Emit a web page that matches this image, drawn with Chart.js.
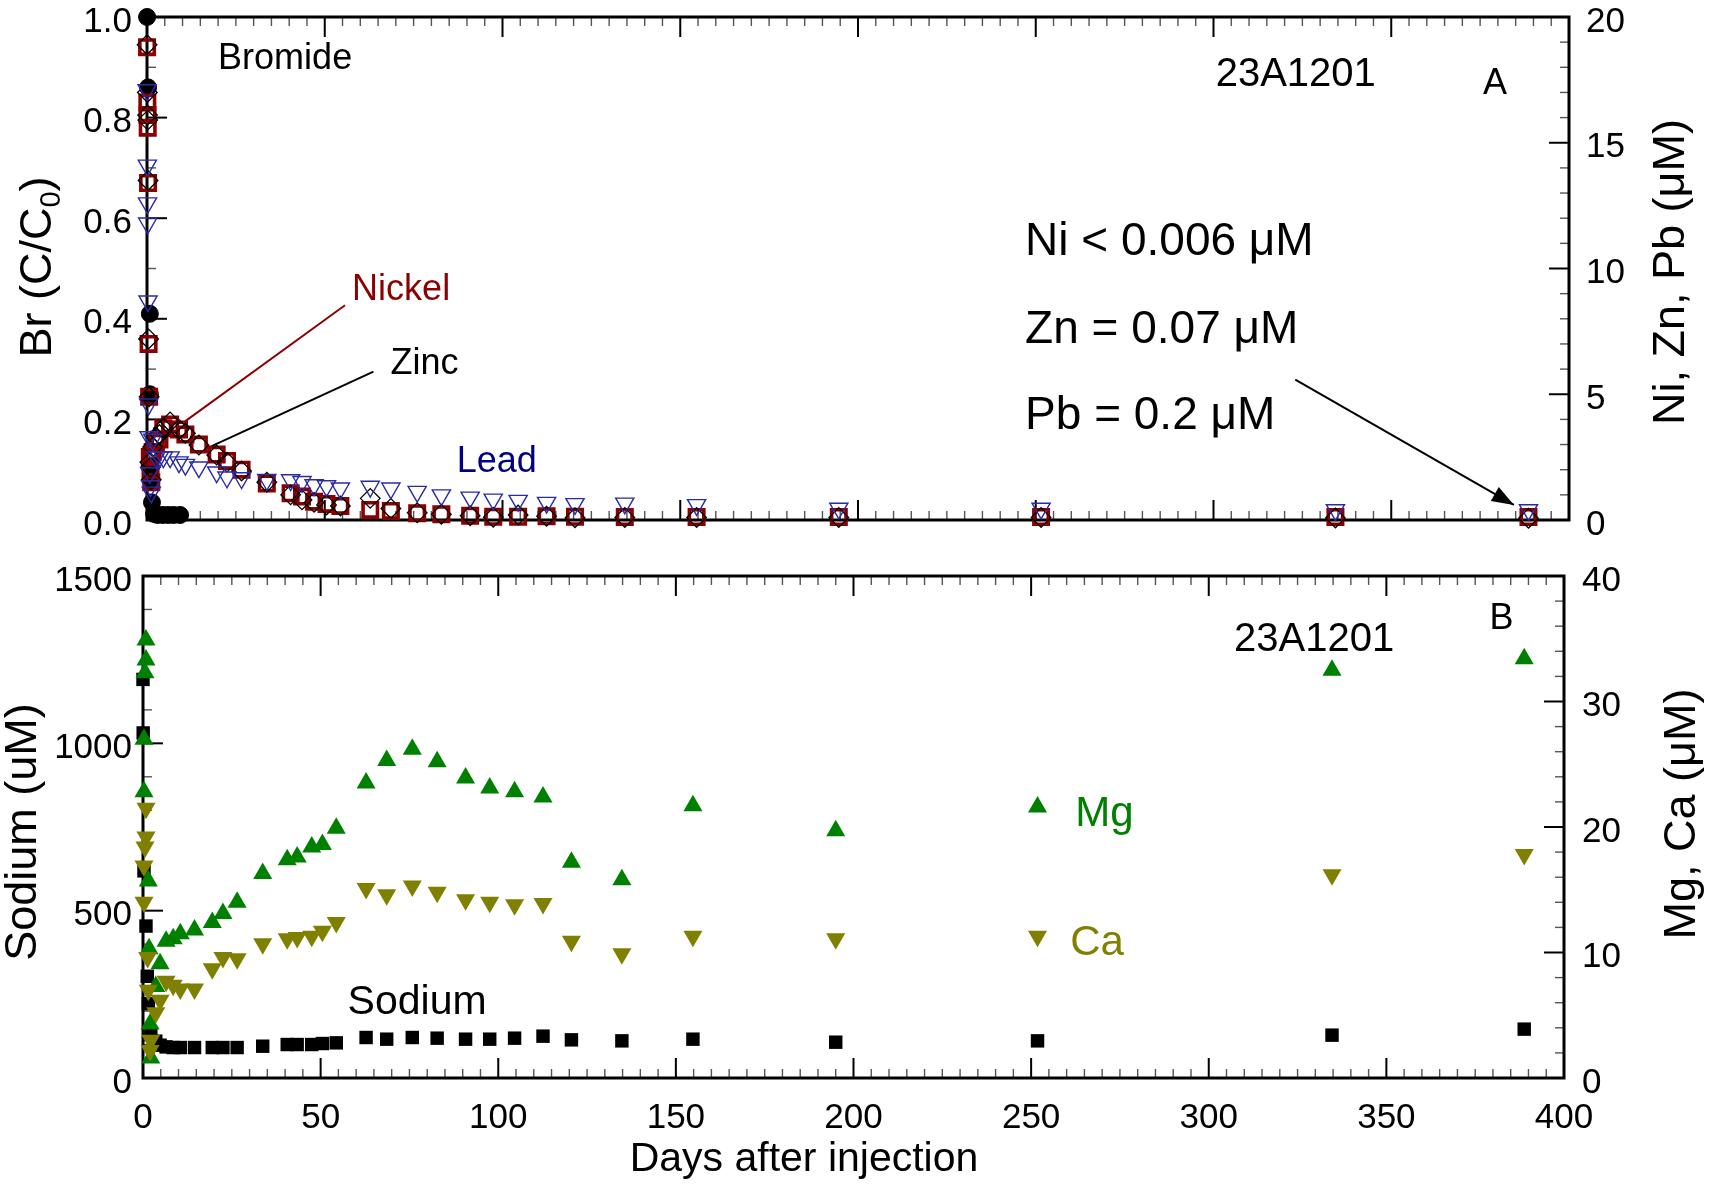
<!DOCTYPE html>
<html>
<head>
<meta charset="utf-8">
<script src="https://cdn.jsdelivr.net/npm/chart.js@4.4.0/dist/chart.umd.min.js"></script>
<style>
  html, body { margin: 0; padding: 0; background: #fff; overflow: hidden; }
  body { width: 1725px; height: 1186px; position: relative; }
  canvas { position: absolute; left: 0; }
  #chartTop { top: -30px; }
  #chartBottom { top: 531px; }
</style>
</head>
<body>
<canvas id="chartTop" width="1725" height="590"></canvas>
<canvas id="chartBottom" width="1725" height="655"></canvas>
<script>
// ---- panel A : bromide (C/C0) and metals (uM) ----
const brDays   = [0.02, 0.3, 0.8, 0.8, 1.0, 1.2, 1.4, 2.0, 3.0, 4.5, 6.0, 7.5, 9.3];
const brValues = [1.0, 0.86, 0.41, 0.25, 0.105, 0.08, 0.035, 0.012, 0.01, 0.01, 0.01, 0.01, 0.01];

const metalDays = [0.02, 0.1, 0.15, 0.2, 0.3, 0.45, 0.6, 0.8, 1.0, 1.2,
  1.6, 2.5, 3.5, 4.6, 6.5, 9.0, 10.8, 14.6, 19.6, 22.5,
  26.6, 33.7, 40.4, 43.6, 47.0, 50.5, 54.4, 62.8, 68.6, 76.0,
  82.8, 90.9, 97.4, 104.4, 112.4, 120.4, 134.4, 154.6, 194.6, 251.5,
  334.3, 388.6];
const niValues = [18.8, 16.6, 16.1, 15.6, 13.4, 7.0, 4.9, 2.5, 2.0, 1.5,
  2.7, 3.1, 3.2, 3.65, 3.8, 3.6, 3.4, 3.0, 2.6, 2.35,
  2.0, 1.45, 1.06, 0.93, 0.73, 0.64, 0.56, 0.40, 0.36, 0.27,
  0.23, 0.17, 0.13, 0.13, 0.15, 0.13, 0.12, 0.12, 0.12, 0.12,
  0.12, 0.12];
const znValues = [18.9, 17.0, 16.1, 15.9, 13.5, 7.2, 4.9, 2.3, 2.1, 1.6,
  2.9, 3.3, 3.4, 3.65, 3.9, 3.6, 3.45, 2.98, 2.58, 2.3,
  1.95, 1.5, 1.0, 0.8, 0.7, 0.6, 0.56, 0.86, 0.46, 0.29,
  0.23, 0.17, 0.11, 0.2, 0.15, 0.09, 0.1, 0.1, 0.1, 0.1,
  0.08, 0.07];
const pbValues = [17.1, 14.1, 12.6, 11.8, 8.7, 4.6, 3.3, 1.87, 1.35, 1.1,
  3.2, 2.5, 2.5, 2.5, 2.5, 2.3, 2.2, 2.1, 1.9, 1.7,
  1.67, 1.6, 1.59, 1.52, 1.39, 1.35, 1.26, 1.33, 1.26, 1.13,
  0.99, 0.9, 0.82, 0.77, 0.69, 0.64, 0.66, 0.6, 0.46, 0.46,
  0.4, 0.4];

// ---- panel B : sodium (uM), Mg and Ca (uM) ----
const naDays = [0.0, 0.05, 0.28, 0.84, 1.2, 1.5, 2.2,
  3.6, 4.8, 6.5, 8.5, 10.5, 14.5, 19.5, 22.5, 26.5, 33.7, 40.6, 43.4, 47.5, 50.5, 54.4,
  62.8, 68.6, 75.8, 82.8, 90.8, 97.6, 104.6, 112.6, 120.6, 134.8, 154.8, 195, 251.8, 334.7, 388.8];
const naValues = [1191, 1031, 619, 454, 304, 222, 130,
  110, 98, 93, 91, 91, 91, 91, 91, 91, 95, 100, 100, 100, 103, 105,
  121, 116, 121, 119, 116, 116, 119, 125, 114, 111, 116, 107, 111, 128, 146];

const mgDays = [0.28, 0.28, 0.56, 0.84, 0.84, 1.5, 1.7, 2.0, 2.2,
  3.6, 4.8, 6.5, 8.5, 10.5, 14.5, 19.5, 22.5, 26.5, 33.7, 40.6, 43.4, 47.5, 50.5, 54.4,
  62.8, 68.6, 75.8, 82.8, 90.8, 97.6, 104.6, 112.6, 120.6, 134.8, 154.8, 195, 251.8, 334.7, 388.8];
const mgValues = [22.8, 27.0, 32.3, 33.3, 34.9, 15.7, 10.3, 4.3, 1.6,
  7.3, 9.1, 10.9, 11.1, 11.5, 11.8, 12.4, 13.1, 14.0, 16.3, 17.4, 17.6, 18.4, 18.6, 19.9,
  23.5, 25.3, 26.2, 25.2, 23.9, 23.1, 22.8, 22.4, 17.2, 15.8, 21.7, 19.7, 21.6, 32.5, 33.4];

const caDays = [0.28, 0.28, 0.56, 0.84, 0.84, 1.3, 1.5, 2.0, 2.2,
  3.6, 4.8, 6.5, 8.5, 10.5, 14.5, 19.5, 22.5, 26.5, 33.7, 40.6, 43.4, 47.5, 50.5, 54.4,
  62.8, 68.6, 75.8, 82.8, 90.8, 97.6, 104.6, 112.6, 120.6, 134.8, 154.8, 195, 251.8, 334.7, 388.8];
const caValues = [14.0, 16.9, 18.4, 19.2, 21.5, 9.6, 7.0, 2.2, 3.0,
  5.2, 6.2, 7.7, 7.4, 7.1, 7.1, 8.7, 9.6, 9.5, 10.7, 11.1, 11.2, 11.3, 11.7, 12.4,
  15.1, 14.6, 15.3, 14.8, 14.2, 14.0, 13.8, 13.9, 10.9, 9.9, 11.3, 11.1, 11.3, 16.2, 17.8];

// tick labels
const dayTicks   = [0, 50, 100, 150, 200, 250, 300, 350, 400];
const brTicks    = [0, 0.2, 0.4, 0.6, 0.8, 1.0];
const metalTicks = [0, 5, 10, 15, 20];
const naTicks    = [0, 500, 1000, 1500];
const mgCaTicks  = [0, 10, 20, 30, 40];

const FONT = '"Liberation Sans", Arial, Helvetica, sans-serif';

function pts(xs, ys) {
  return xs.map((x, i) => ({ x: x, y: ys[i] }));
}
function fixedTicks(values) {
  return function (scale) { scale.ticks = values.map(v => ({ value: v })); };
}

// frame, inside tick marks, annotations and axis titles
const framePlugin = {
  id: 'frame',
  beforeDatasetsDraw(chart, args, opts) {
    const ctx = chart.ctx, a = chart.chartArea;
    ctx.save();
    const marks = (scale, step, big, side) => {
      const n = Math.round((scale.max - scale.min) / step);
      for (let i = 0; i <= n; i++) {
        const v = scale.min + i * step;
        const r = v / big;
        const major = Math.abs(r - Math.round(r)) < 1e-6;
        const len = major ? 20 : 9;
        ctx.lineWidth = major ? 2 : 1.4;
        ctx.strokeStyle = major ? '#000' : '#555';
        const p = scale.getPixelForValue(v);
        ctx.beginPath();
        if (side === 'x') {
          ctx.moveTo(p, a.bottom); ctx.lineTo(p, a.bottom - len);
          ctx.moveTo(p, a.top); ctx.lineTo(p, a.top + len);
        } else if (side === 'left') {
          ctx.moveTo(a.left, p); ctx.lineTo(a.left + len, p);
        } else {
          ctx.moveTo(a.right, p); ctx.lineTo(a.right - len, p);
        }
        ctx.stroke();
      }
    };
    marks(chart.scales.x, 5, 50, 'x');
    marks(chart.scales.y, opts.leftMinor, opts.leftMajor, 'left');
    marks(chart.scales.yR, opts.rightMinor, opts.rightMajor, 'right');
    ctx.lineWidth = 3;
    ctx.strokeStyle = '#000';
    ctx.strokeRect(a.left, a.top, a.right - a.left, a.bottom - a.top);
    ctx.restore();
  },
  afterDatasetsDraw(chart, args, opts) {
    const ctx = chart.ctx;
    const sx = chart.scales.x;
    ctx.save();
    (opts.lines || []).forEach(l => {
      const sy = chart.scales[l.axis];
      const x1 = sx.getPixelForValue(l.x1), y1 = sy.getPixelForValue(l.y1);
      const x2 = sx.getPixelForValue(l.x2), y2 = sy.getPixelForValue(l.y2);
      ctx.strokeStyle = l.color; ctx.fillStyle = l.color; ctx.lineWidth = 2;
      ctx.beginPath(); ctx.moveTo(x1, y1); ctx.lineTo(x2, y2); ctx.stroke();
      if (l.arrow) {
        const ang = Math.atan2(y2 - y1, x2 - x1), L = 22, W = 8;
        ctx.beginPath();
        ctx.moveTo(x2, y2);
        ctx.lineTo(x2 - L * Math.cos(ang) + W * Math.sin(ang), y2 - L * Math.sin(ang) - W * Math.cos(ang));
        ctx.lineTo(x2 - L * Math.cos(ang) - W * Math.sin(ang), y2 - L * Math.sin(ang) + W * Math.cos(ang));
        ctx.closePath(); ctx.fill();
      }
    });
    (opts.texts || []).forEach(t => {
      const sy = chart.scales[t.axis];
      ctx.font = t.size + 'px ' + FONT;
      ctx.fillStyle = t.color || '#000';
      ctx.textAlign = 'left';
      ctx.textBaseline = 'middle';
      ctx.fillText(t.text, sx.getPixelForValue(t.x), sy.getPixelForValue(t.y));
    });
    (opts.titles || []).forEach(t => {
      ctx.save();
      ctx.translate(t.px, t.py);
      if (t.rotate) ctx.rotate(-Math.PI / 2);
      ctx.fillStyle = '#000';
      ctx.font = t.size + 'px ' + FONT;
      if (t.sub) {
        const w1 = ctx.measureText(t.text).width;
        const w3 = ctx.measureText(t.tail).width;
        ctx.font = Math.round(t.size * 0.65) + 'px ' + FONT;
        const w2 = ctx.measureText(t.sub).width;
        const base = t.size * 0.36;
        let x = -(w1 + w2 + w3) / 2;
        ctx.textAlign = 'left';
        ctx.textBaseline = 'alphabetic';
        ctx.font = t.size + 'px ' + FONT;
        ctx.fillText(t.text, x, base); x += w1;
        ctx.font = Math.round(t.size * 0.65) + 'px ' + FONT;
        ctx.fillText(t.sub, x, base + t.size * 0.2); x += w2;
        ctx.font = t.size + 'px ' + FONT;
        ctx.fillText(t.tail, x, base);
      } else {
        ctx.textAlign = 'center';
        ctx.textBaseline = 'middle';
        ctx.fillText(t.text, 0, 0);
      }
      ctx.restore();
    });
    ctx.restore();
  }
};

function yScale(pos, min, max, ticks, width, pad, fmt) {
  return {
    type: 'linear', position: pos, min: min, max: max,
    afterBuildTicks: fixedTicks(ticks),
    afterFit: s => { s.width = width; },
    grid: { display: false, drawTicks: false },
    border: { display: false },
    ticks: {
      font: { family: FONT, size: 35 }, color: '#000', padding: pad, labelOffset: 5,
      callback: fmt || (v => String(v))
    }
  };
}

// top canvas sits 30px above the page, chart area 17..520 on the page
new Chart(document.getElementById('chartTop'), {
  type: 'scatter',
  data: {
    datasets: [
      { label: 'Lead', data: pts(metalDays, pbValues), yAxisID: 'yR', clip: false,
        pointStyle: 'triangle', pointRotation: 180, pointRadius: 10.5, pointHoverRadius: 10.5,
        pointBorderColor: '#2a2aa8', pointBackgroundColor: 'rgba(0,0,0,0)', pointBorderWidth: 1.4 },
      { label: 'Zinc', data: pts(metalDays, znValues), yAxisID: 'yR', clip: false,
        pointStyle: 'rectRot', pointRadius: 9.8, pointHoverRadius: 9.8,
        pointBorderColor: '#000', pointBackgroundColor: 'rgba(0,0,0,0)', pointBorderWidth: 1.3 },
      { label: 'Nickel', data: pts(metalDays, niValues), yAxisID: 'yR', clip: false,
        pointStyle: 'rect', pointRadius: 10.2, pointHoverRadius: 10.2,
        pointBorderColor: '#8b0000', pointBackgroundColor: 'rgba(0,0,0,0)', pointBorderWidth: 3.6 },
      { label: 'Bromide', data: pts(brDays, brValues), yAxisID: 'y', clip: false,
        pointStyle: 'circle', pointRadius: 8.5, pointHoverRadius: 8.5,
        pointBorderColor: '#000', pointBackgroundColor: '#000', pointBorderWidth: 1 }
    ]
  },
  options: {
    responsive: false, animation: false, events: [],
    layout: { padding: { top: 47, left: 0, right: 0, bottom: 0 } },
    scales: {
      x: {
        type: 'linear', min: 0, max: 400,
        afterBuildTicks: fixedTicks(dayTicks),
        afterFit: s => { s.height = 40; },
        grid: { display: false, drawTicks: false }, border: { display: false },
        ticks: { display: false }
      },
      y: yScale('left', 0, 1, brTicks, 147, 15, v => v.toFixed(1)),
      yR: yScale('right', 0, 20, metalTicks, 156, 17)
    },
    plugins: {
      legend: { display: false }, tooltip: { enabled: false },
      frame: {
        leftMinor: 0.1, leftMajor: 0.2, rightMinor: 1, rightMajor: 5,
        lines: [
          { x1: 10.7, y1: 0.196, x2: 55.7, y2: 0.427, axis: 'y', color: '#8b0000' },
          { x1: 18.2, y1: 0.147, x2: 63.7, y2: 0.295, axis: 'y', color: '#000' },
          { x1: 323, y1: 0.279, x2: 384.5, y2: 0.030, axis: 'y', color: '#000', arrow: true }
        ],
        texts: [
          { text: 'Bromide', x: 20, y: 0.917, axis: 'y', size: 36 },
          { text: '23A1201', x: 300.6, y: 0.885, axis: 'y', size: 40 },
          { text: 'A', x: 375.8, y: 0.867, axis: 'y', size: 36 },
          { text: 'Ni < 0.006 μM', x: 247, y: 0.553, axis: 'y', size: 46 },
          { text: 'Zn = 0.07 μM', x: 247, y: 0.378, axis: 'y', size: 46 },
          { text: 'Pb = 0.2 μM', x: 247, y: 0.207, axis: 'y', size: 46 },
          { text: 'Nickel', x: 57.7, y: 0.457, axis: 'y', size: 36, color: '#8b0000' },
          { text: 'Zinc', x: 68.5, y: 0.310, axis: 'y', size: 36 },
          { text: 'Lead', x: 87.1, y: 0.115, axis: 'y', size: 36, color: '#000080' }
        ],
        titles: [
          { text: 'Br (C/C', sub: '0', tail: ')', px: 35, py: 297, rotate: true, size: 45 },
          { text: 'Ni, Zn, Pb (μM)', px: 1672, py: 302, rotate: true, size: 45 }
        ]
      }
    }
  },
  plugins: [framePlugin]
});

// bottom canvas starts at page y 531, chart area 576..1078 on the page
new Chart(document.getElementById('chartBottom'), {
  type: 'scatter',
  data: {
    datasets: [
      { label: 'Ca', data: pts(caDays, caValues), yAxisID: 'yR', clip: false,
        pointStyle: 'triangle', pointRotation: 180, pointRadius: 11, pointHoverRadius: 11,
        pointBorderColor: '#808000', pointBackgroundColor: '#808000', pointBorderWidth: 0 },
      { label: 'Mg', data: pts(mgDays, mgValues), yAxisID: 'yR', clip: false,
        pointStyle: 'triangle', pointRadius: 11, pointHoverRadius: 11,
        pointBorderColor: '#008000', pointBackgroundColor: '#008000', pointBorderWidth: 0 },
      { label: 'Sodium', data: pts(naDays, naValues), yAxisID: 'y', clip: false,
        pointStyle: 'rect', pointRadius: 9.5, pointHoverRadius: 9.5,
        pointBorderColor: '#000', pointBackgroundColor: '#000', pointBorderWidth: 0 }
    ]
  },
  options: {
    responsive: false, animation: false, events: [],
    layout: { padding: { top: 45, left: 0, right: 0, bottom: 0 } },
    scales: {
      x: {
        type: 'linear', min: 0, max: 400,
        afterBuildTicks: fixedTicks(dayTicks),
        afterFit: s => { s.height = 108; },
        grid: { display: false, drawTicks: false }, border: { display: false },
        ticks: { font: { family: FONT, size: 35 }, color: '#000', padding: 19,
          maxRotation: 0, autoSkip: false }
      },
      y: yScale('left', 0, 1500, naTicks, 143, 11),
      yR: yScale('right', 0, 40, mgCaTicks, 161, 18)
    },
    plugins: {
      legend: { display: false }, tooltip: { enabled: false },
      frame: {
        leftMinor: 100, leftMajor: 500, rightMinor: 2, rightMajor: 10,
        texts: [
          { text: '23A1201', x: 307.1, y: 34.9, axis: 'yR', size: 40 },
          { text: 'B', x: 379, y: 36.6, axis: 'yR', size: 36 },
          { text: 'Mg', x: 262.4, y: 21.0, axis: 'yR', size: 42, color: '#008000' },
          { text: 'Ca', x: 261, y: 10.7, axis: 'yR', size: 42, color: '#808000' },
          { text: 'Sodium', x: 57.6, y: 6.0, axis: 'yR', size: 41 }
        ],
        titles: [
          { text: 'Sodium (uM)', px: 24, py: 301, rotate: true, size: 45 },
          { text: 'Mg, Ca (μM)', px: 1683, py: 283, rotate: true, size: 45 },
          { text: 'Days after injection', px: 804, py: 629, size: 41 }
        ]
      }
    }
  },
  plugins: [framePlugin]
});
</script>
</body>
</html>
